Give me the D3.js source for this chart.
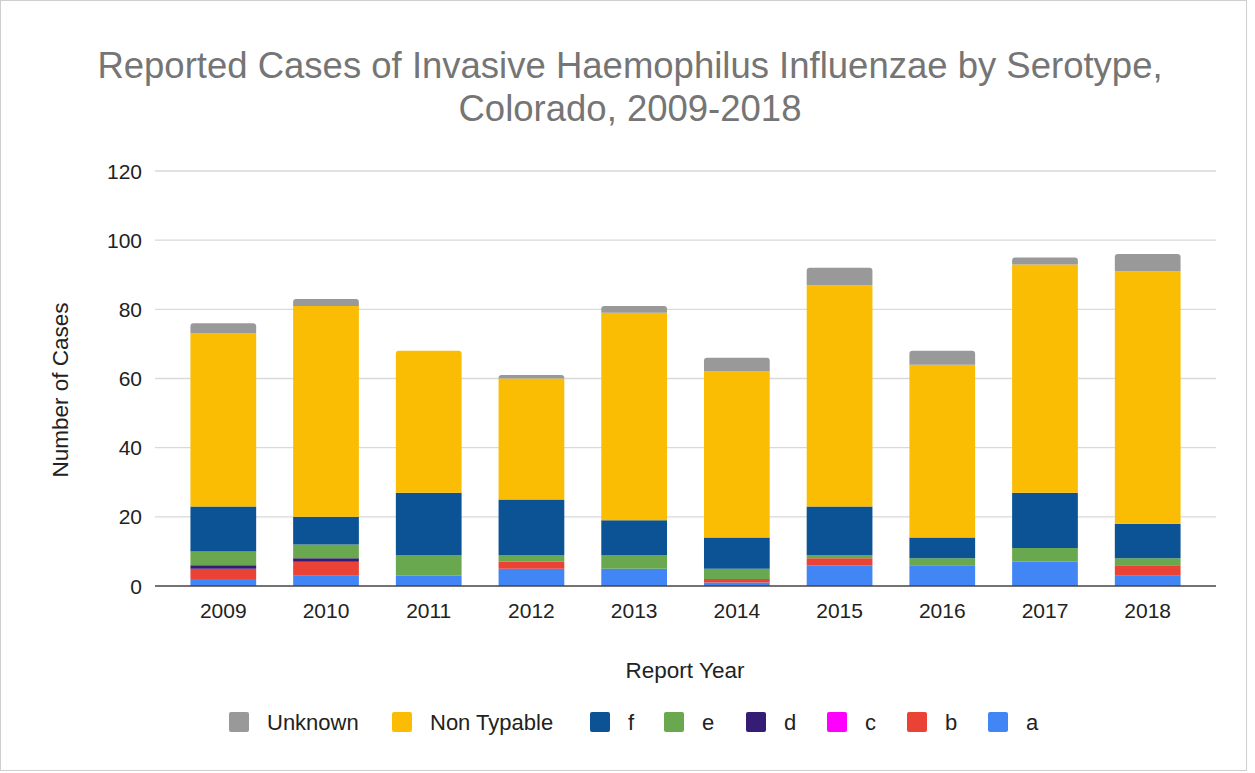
<!DOCTYPE html>
<html>
<head>
<meta charset="utf-8">
<script src="https://cdn.jsdelivr.net/npm/d3@7"></script>
<style>
  body { margin: 0; background: #fff; }
  svg { display: block; font-family: "Liberation Sans", Arial, sans-serif; }
</style>
</head>
<body>
<svg id="chart" width="1255" height="773"></svg>
<script>
(() => {
  const years = ["2009", "2010", "2011", "2012", "2013", "2014", "2015", "2016", "2017", "2018"];
  // stacked bottom to top
  const serotypeA = [2, 3, 3, 5, 5, 1, 6, 6, 7, 3];
  const serotypeB = [3, 4, 0, 2, 0, 1, 2, 0, 0, 3];
  const serotypeC = [0, 0, 0, 0, 0, 0, 0, 0, 0, 0];
  const serotypeD = [1, 1, 0, 0, 0, 0, 0, 0, 0, 0];
  const serotypeE = [4, 4, 6, 2, 4, 3, 1, 2, 4, 2];
  const serotypeF = [13, 8, 18, 16, 10, 9, 14, 6, 16, 10];
  const nonTypable = [50, 61, 41, 35, 60, 48, 64, 50, 66, 73];
  const unknown = [3, 2, 0, 1, 2, 4, 5, 4, 2, 5];
  const yTicks = [0, 20, 40, 60, 80, 100, 120];

  const series = [
    { key: "a", values: serotypeA, color: "#4285F4" },
    { key: "b", values: serotypeB, color: "#EA4335" },
    { key: "c", values: serotypeC, color: "#FF00FF" },
    { key: "d", values: serotypeD, color: "#351C75" },
    { key: "e", values: serotypeE, color: "#6AA84F" },
    { key: "f", values: serotypeF, color: "#0B5394" },
    { key: "Non Typable", values: nonTypable, color: "#FBBC04" },
    { key: "Unknown", values: unknown, color: "#999999" }
  ];

  const svg = d3.select("#chart");

  const left = 155, right = 1216, top = 171, bottom = 586;

  // outer frame
  svg.append("rect")
    .attr("x", 0.5).attr("y", 0.5)
    .attr("width", 1246).attr("height", 770)
    .attr("fill", "#fff")
    .attr("stroke", "#cfcfcf");

  svg.append("text")
    .attr("x", 630).attr("y", 78)
    .attr("text-anchor", "middle")
    .attr("font-size", "36.5px")
    .attr("fill", "#757575")
    .text("Reported Cases of Invasive Haemophilus Influenzae by Serotype,");
  svg.append("text")
    .attr("x", 630).attr("y", 121)
    .attr("text-anchor", "middle")
    .attr("font-size", "36.5px")
    .attr("fill", "#757575")
    .text("Colorado, 2009-2018");

  const x = d3.scaleBand().domain(years).range([left, right])
    .paddingInner(0.36).paddingOuter(0.345);
  const y = d3.scaleLinear().domain([0, 120]).range([bottom, top]);

  // gridlines
  svg.append("g")
    .selectAll("line")
    .data(yTicks.filter(t => t > 0))
    .join("line")
    .attr("x1", left).attr("x2", right)
    .attr("y1", d => y(d)).attr("y2", d => y(d))
    .attr("stroke", "#d9d9d9")
    .attr("stroke-width", 1.3);

  svg.append("g")
    .selectAll("text")
    .data(yTicks)
    .join("text")
    .attr("x", 142)
    .attr("y", d => y(d) + 7.5)
    .attr("text-anchor", "end")
    .attr("font-size", "21px")
    .attr("fill", "#222")
    .text(d => d);

  const stack = d3.stack()
    .keys(series.map(s => s.key))
    .value((d, key) => series.find(s => s.key === key).values[d]);
  const stacked = stack(years.map((_, i) => i));

  // index of the topmost non-empty series per year
  const topIdx = years.map((_, i) => {
    let t = 0;
    series.forEach((s, k) => { if (s.values[i] > 0) t = k; });
    return t;
  });

  const r = 3;
  stacked.forEach((layer, k) => {
    svg.append("g")
      .selectAll("path")
      .data(layer.map((d, i) => ({ d, i })).filter(o => o.d[1] > o.d[0]))
      .join("path")
      .attr("fill", series[k].color)
      .attr("d", ({ d, i }) => {
        const x0 = x(years[i]), w = x.bandwidth();
        const y0 = y(d[0]), y1 = y(d[1]);
        if (topIdx[i] !== k) return `M${x0},${y0}H${x0 + w}V${y1}H${x0}Z`;
        return `M${x0},${y0}V${y1 + r}Q${x0},${y1} ${x0 + r},${y1}` +
          `H${x0 + w - r}Q${x0 + w},${y1} ${x0 + w},${y1 + r}V${y0}Z`;
      });
  });

  // baseline
  svg.append("line")
    .attr("x1", left).attr("x2", right)
    .attr("y1", bottom).attr("y2", bottom)
    .attr("stroke", "#444")
    .attr("stroke-width", 1.5);

  svg.append("g")
    .selectAll("text")
    .data(years)
    .join("text")
    .attr("x", d => x(d) + x.bandwidth() / 2)
    .attr("y", 618)
    .attr("text-anchor", "middle")
    .attr("font-size", "21px")
    .attr("fill", "#222")
    .text(d => d);

  svg.append("text")
    .attr("x", 685).attr("y", 678)
    .attr("text-anchor", "middle")
    .attr("font-size", "22.5px")
    .attr("fill", "#222")
    .text("Report Year");

  svg.append("text")
    .attr("transform", "translate(68,390) rotate(-90)")
    .attr("text-anchor", "middle")
    .attr("font-size", "22.5px")
    .attr("fill", "#222")
    .text("Number of Cases");

  // legend
  const legendItems = series.slice().reverse();
  const legendX = [229, 392, 590, 664, 746, 827, 907, 988];
  const lg = svg.append("g")
    .selectAll("g")
    .data(legendItems)
    .join("g")
    .attr("transform", (d, i) => `translate(${legendX[i]},712)`);
  lg.append("rect")
    .attr("width", 20).attr("height", 20)
    .attr("rx", 2)
    .attr("fill", d => d.color);
  lg.append("text")
    .attr("x", 38).attr("y", 18)
    .attr("font-size", "22px")
    .attr("fill", "#222")
    .text(d => d.key);
})();
</script>
</body>
</html>
